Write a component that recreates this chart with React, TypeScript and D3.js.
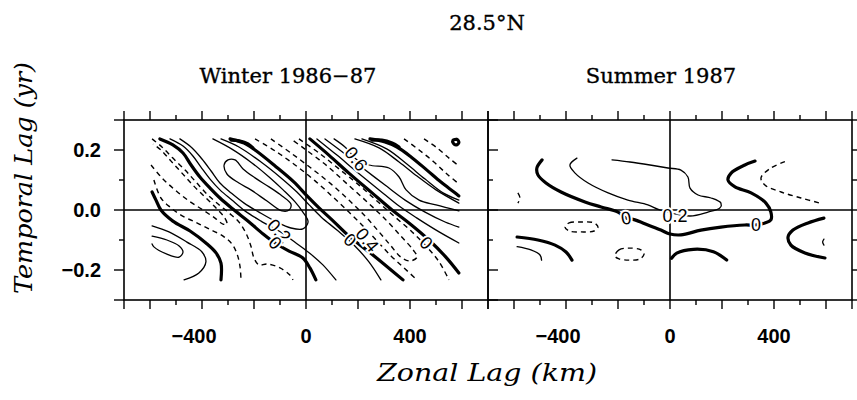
import { useEffect, useRef } from 'react';
import * as d3 from 'd3';

type Pt = [number, number];
type Kind = 'thin' | 'thick' | 'dash';

// axis values
const xTickValues = [-700, -600, -500, -400, -300, -200, -100, 0, 100, 200, 300, 400, 500, 600, 700];
const xTickLabels = [-400, 0, 400];
const yTickValues = [-0.3, -0.2, -0.1, 0, 0.1, 0.2, 0.3];
const yTickLabels = [0.2, 0, -0.2];

// ---- Winter 1986-87 contours, [zonal lag km, temporal lag yr] ----
const wZeroLowLeft: Pt[] = [[-592, 0.06], [-577, 0.033], [-558, 0], [-512, -0.037], [-446, -0.07], [-385, -0.11], [-346, -0.143], [-327, -0.177], [-327, -0.233]];
const wPosLowLeft: Pt[] = [[-592, -0.053], [-527, -0.073], [-458, -0.107], [-400, -0.14], [-385, -0.173], [-412, -0.21], [-469, -0.233]];
const wPosLowLeft2: Pt[] = [[-592, -0.087], [-535, -0.1], [-488, -0.12], [-473, -0.14], [-488, -0.157], [-535, -0.147], [-585, -0.123], [-592, -0.113]];
const wNegA1: Pt[] = [[-585, 0.1], [-558, 0.04], [-519, 0.007], [-481, -0.017], [-427, -0.04], [-373, -0.063], [-319, -0.087], [-285, -0.113], [-265, -0.147], [-254, -0.187], [-250, -0.233]];
const wNegA2: Pt[] = [[-592, 0.237], [-554, 0.21], [-512, 0.173], [-465, 0.133], [-423, 0.093], [-381, 0.053], [-338, 0.02], [-296, -0.01], [-258, -0.04], [-231, -0.077], [-212, -0.12], [-200, -0.16], [-181, -0.183], [-150, -0.18], [-100, -0.193], [-62, -0.217], [-50, -0.233]];
const wNegA3: Pt[] = [[-596, 0.15], [-554, 0.107], [-504, 0.067], [-450, 0.03], [-396, 0], [-350, -0.027], [-319, -0.047], [-304, -0.047], [-312, -0.027], [-342, 0.003], [-388, 0.043], [-435, 0.083], [-477, 0.123], [-519, 0.163], [-558, 0.2], [-588, 0.22]];
const wBandAL0: Pt[] = [[-562, 0.237], [-512, 0.217], [-473, 0.19], [-442, 0.15], [-408, 0.11], [-369, 0.073], [-331, 0.04], [-281, 0.003], [-219, -0.04], [-165, -0.08], [-119, -0.11], [-65, -0.137], [-12, -0.16], [15, -0.193], [38, -0.233]];
const wBandAL2: Pt[] = [[-523, 0.237], [-473, 0.213], [-435, 0.18], [-404, 0.143], [-369, 0.103], [-331, 0.067], [-285, 0.033], [-235, -0.003], [-173, -0.037], [-104, -0.07], [-54, -0.1], [-12, -0.127], [27, -0.153], [65, -0.183], [115, -0.233]];
const wBandA4: Pt[] = [[-485, 0.237], [-438, 0.207], [-400, 0.17], [-365, 0.13], [-331, 0.09], [-288, 0.057], [-238, 0.023], [-181, -0.007], [-119, -0.037], [-58, -0.06], [-12, -0.063], [8, -0.04], [-12, -0.007], [-42, 0.027], [-88, 0.067], [-142, 0.11], [-208, 0.157], [-285, 0.203], [-358, 0.237]];
const wBandA6: Pt[] = [[-315, 0.15], [-300, 0.167], [-273, 0.167], [-242, 0.137], [-196, 0.107], [-142, 0.077], [-92, 0.047], [-58, 0.02], [-65, 0], [-92, -0.003], [-150, 0.03], [-212, 0.067], [-258, 0.09], [-304, 0.12]];
const wBandAR2: Pt[] = [[-327, 0.237], [-258, 0.21], [-173, 0.16], [-96, 0.107], [-35, 0.06], [12, 0.017], [58, -0.023], [119, -0.067], [188, -0.12], [242, -0.173], [288, -0.233]];
const wBandAR0: Pt[] = [[-292, 0.237], [-238, 0.223], [-196, 0.2], [-119, 0.147], [-46, 0.093], [4, 0.047], [50, 0.007], [100, -0.033], [165, -0.087], [262, -0.153], [373, -0.233]];
const wBlobA: Pt[] = [[-288, 0.233], [-254, 0.23], [-223, 0.22], [-204, 0.207]];
const wNegB1: Pt[] = [[-196, 0.237], [-119, 0.197], [-42, 0.15], [35, 0.097], [104, 0.043], [165, -0.007], [219, -0.053], [273, -0.103], [327, -0.153], [377, -0.193], [427, -0.233]];
const wNegB2: Pt[] = [[-27, 0.237], [50, 0.19], [127, 0.137], [204, 0.083], [273, 0.03], [342, -0.023], [408, -0.073], [465, -0.123], [512, -0.173], [550, -0.233]];
const wNegB3: Pt[] = [[-135, 0.237], [-58, 0.19], [19, 0.14], [96, 0.087], [165, 0.033], [227, -0.02], [281, -0.073], [327, -0.12], [365, -0.157], [400, -0.17], [427, -0.157], [412, -0.133], [365, -0.087], [304, -0.03], [235, 0.027], [158, 0.087], [81, 0.147], [-4, 0.203], [-58, 0.237]];
const wBandBL0: Pt[] = [[15, 0.237], [88, 0.183], [165, 0.123], [254, 0.057], [331, 0], [396, -0.043], [473, -0.1], [538, -0.157], [588, -0.21]];
const wBandBL2: Pt[] = [[42, 0.237], [119, 0.183], [196, 0.127], [281, 0.067], [358, 0.013], [427, -0.027], [512, -0.073], [588, -0.11]];
const wBandBL4: Pt[] = [[73, 0.237], [150, 0.187], [223, 0.137], [304, 0.083], [381, 0.033], [458, -0.007], [535, -0.04], [588, -0.057]];
const wBandB6: Pt[] = [[108, 0.237], [154, 0.207], [192, 0.17], [242, 0.15], [319, 0.14], [358, 0.11], [385, 0.067], [435, 0.033], [500, 0.017], [588, -0.003]];
const wBandBR4: Pt[] = [[188, 0.237], [281, 0.207], [358, 0.16], [427, 0.113], [500, 0.067], [588, 0.023]];
const wBandBR2: Pt[] = [[215, 0.237], [312, 0.203], [388, 0.153], [458, 0.103], [527, 0.057], [588, 0.033]];
const wBandBR0: Pt[] = [[246, 0.237], [304, 0.227], [350, 0.21], [404, 0.177], [465, 0.133], [519, 0.093], [569, 0.06], [588, 0.047]];
const wBlobB: Pt[] = [[254, 0.233], [292, 0.233], [331, 0.223], [358, 0.21]];
const wNegC1: Pt[] = [[377, 0.237], [435, 0.2], [492, 0.16], [542, 0.12], [588, 0.087]];
const wNegC2: Pt[] = [[454, 0.237], [504, 0.207], [550, 0.173], [588, 0.147]];
const wBlobC: Pt[] = [[565, 0.232], [581, 0.235], [588, 0.225], [578, 0.217], [567, 0.222]];

// ---- Summer 1987 contours ----
const sZeroMain: Pt[] = [[-492, 0.167], [-512, 0.14], [-508, 0.117], [-477, 0.09], [-419, 0.06], [-327, 0.027], [-265, 0.01], [-200, -0.007], [-169, -0.027], [-135, -0.033], [-85, -0.05], [-35, -0.067], [0, -0.08], [42, -0.083], [119, -0.067], [196, -0.057], [288, -0.05], [327, -0.05], [365, -0.043], [388, -0.033], [388, -0.007], [369, 0.023], [312, 0.057], [250, 0.077], [223, 0.1], [235, 0.123], [288, 0.15], [327, 0.163]];
const sPosMain: Pt[] = [[-358, 0.173], [-385, 0.15], [-365, 0.123], [-315, 0.09], [-238, 0.057], [-162, 0.033], [-85, 0.017], [-38, 0], [77, -0.02], [146, -0.007], [192, 0.007], [196, 0.023], [158, 0.04], [108, 0.05], [77, 0.073], [69, 0.11], [42, 0.133], [-8, 0.14], [-77, 0.15], [-154, 0.16], [-223, 0.167]];
const sNegA: Pt[] = [[-404, -0.057], [-388, -0.043], [-342, -0.04], [-292, -0.043], [-277, -0.057], [-292, -0.07], [-342, -0.073], [-388, -0.07]];
const sNegB: Pt[] = [[-212, -0.153], [-196, -0.133], [-158, -0.127], [-112, -0.133], [-100, -0.147], [-115, -0.163], [-158, -0.167], [-196, -0.163]];
const sZeroLowLeft: Pt[] = [[-588, -0.09], [-508, -0.1], [-442, -0.117], [-400, -0.14], [-377, -0.167]];
const sPosLowLeft: Pt[] = [[-588, -0.122], [-535, -0.133], [-500, -0.15], [-494, -0.167]];
const sZeroLowMid: Pt[] = [[6, -0.161], [26, -0.144], [90, -0.131], [167, -0.139], [218, -0.167]];
const sZeroRight: Pt[] = [[592, -0.027], [531, -0.043], [473, -0.067], [454, -0.09], [465, -0.117], [519, -0.143], [596, -0.16]];
const sPosRight: Pt[] = [[592, -0.097], [587, -0.107], [592, -0.117]];
const sNegUpRight: Pt[] = [[442, 0.161], [388, 0.14], [350, 0.107], [365, 0.083], [427, 0.06], [504, 0.04], [577, 0.023]];
const sNegLeft: Pt[] = [[-585, 0.057], [-577, 0.04], [-585, 0.023]];

interface Contour { pts: Pt[]; kind: Kind; closed?: boolean }
interface Label { km: number; yr: number; text: string; rot: number }

const winterContours: Contour[] = [
  { pts: wZeroLowLeft, kind: 'thick' },
  { pts: wPosLowLeft, kind: 'thin' },
  { pts: wPosLowLeft2, kind: 'thin' },
  { pts: wNegA1, kind: 'dash' },
  { pts: wNegA2, kind: 'dash' },
  { pts: wNegA3, kind: 'dash' },
  { pts: wBandAL0, kind: 'thick' },
  { pts: wBandAL2, kind: 'thin' },
  { pts: wBandA4, kind: 'thin' },
  { pts: wBandA6, kind: 'thin', closed: true },
  { pts: wBandAR2, kind: 'thin' },
  { pts: wBandAR0, kind: 'thick' },
  { pts: wBlobA, kind: 'thick' },
  { pts: wNegB1, kind: 'dash' },
  { pts: wNegB2, kind: 'dash' },
  { pts: wNegB3, kind: 'dash' },
  { pts: wBandBL0, kind: 'thick' },
  { pts: wBandBL2, kind: 'thin' },
  { pts: wBandBL4, kind: 'thin' },
  { pts: wBandB6, kind: 'thin' },
  { pts: wBandBR4, kind: 'thin' },
  { pts: wBandBR2, kind: 'thin' },
  { pts: wBandBR0, kind: 'thick' },
  { pts: wBlobB, kind: 'thick' },
  { pts: wNegC1, kind: 'dash' },
  { pts: wNegC2, kind: 'dash' },
  { pts: wBlobC, kind: 'thick', closed: true },
];

const summerContours: Contour[] = [
  { pts: sZeroMain, kind: 'thick' },
  { pts: sPosMain, kind: 'thin' },
  { pts: sNegA, kind: 'dash', closed: true },
  { pts: sNegB, kind: 'dash', closed: true },
  { pts: sZeroLowLeft, kind: 'thick' },
  { pts: sPosLowLeft, kind: 'thin' },
  { pts: sZeroLowMid, kind: 'thick' },
  { pts: sZeroRight, kind: 'thick' },
  { pts: sPosRight, kind: 'thin' },
  { pts: sNegUpRight, kind: 'dash' },
  { pts: sNegLeft, kind: 'dash' },
];

const winterLabels: Label[] = [
  { km: 192, yr: 0.17, text: '0.6', rot: 52 },
  { km: -104, yr: -0.07, text: '0.2', rot: 47 },
  { km: -119, yr: -0.11, text: '0', rot: 45 },
  { km: 169, yr: -0.1, text: '0', rot: 40 },
  { km: 235, yr: -0.1, text: '0.4', rot: 50 },
  { km: 462, yr: -0.11, text: '0', rot: 45 },
];

const summerLabels: Label[] = [
  { km: -169, yr: -0.027, text: '0', rot: -10 },
  { km: 19, yr: -0.02, text: '0.2', rot: 0 },
  { km: 331, yr: -0.05, text: '0', rot: 0 },
];

const panels = [
  { title: 'Winter 1986\u221287', titleX: 288, range: [124, 488], contours: winterContours, labels: winterLabels },
  { title: 'Summer 1987', titleX: 661, range: [488, 852], contours: summerContours, labels: summerLabels },
];

const fmtTick = (v: number) => (v < 0 ? '\u2212' : '') + Math.abs(v).toString();

const App = () => {
  const svgRef = useRef<SVGSVGElement>(null);

  useEffect(() => {
    const svg = d3.select(svgRef.current)
      .attr('width', 857)
      .attr('height', 400);
    svg.selectAll('*').remove();

    const y = d3.scaleLinear().domain([-0.3, 0.3]).range([300, 120]);
    const yTop = y(0.3);
    const yBot = y(-0.3);
    const serif = "'DejaVu Serif', serif";
    const sans = "'Liberation Sans', Arial, sans-serif";

    svg.append('text')
      .attr('x', 487).attr('y', 30)
      .attr('text-anchor', 'middle')
      .attr('stroke', '#000').attr('stroke-width', 0.35)
      .style('font', `21px ${serif}`)
      .text('28.5\u00b0N');

    // horizontal zero line across both panels
    svg.append('line')
      .attr('x1', 124).attr('x2', 852)
      .attr('y1', y(0)).attr('y2', y(0))
      .attr('stroke', '#000').attr('stroke-width', 1.6);

    panels.forEach((p, pi) => {
      const x = d3.scaleLinear().domain([-700, 700]).range(p.range);
      const g = svg.append('g');

      g.append('text')
        .attr('x', p.titleX).attr('y', 83)
        .attr('text-anchor', 'middle')
        .attr('stroke', '#000').attr('stroke-width', 0.35)
        .style('font', `21px ${serif}`)
        .text(p.title);

      // frame
      g.append('rect')
        .attr('x', x(-700)).attr('y', yTop)
        .attr('width', x(700) - x(-700)).attr('height', yBot - yTop)
        .attr('fill', 'none').attr('stroke', '#000').attr('stroke-width', 1.6);

      // vertical zero line
      g.append('line')
        .attr('x1', x(0)).attr('x2', x(0))
        .attr('y1', yTop).attr('y2', yBot)
        .attr('stroke', '#000').attr('stroke-width', 1.6);

      // x ticks top and bottom
      xTickValues.forEach(v => {
        const len = (v % 200 === 0 || Math.abs(v) === 700) ? 9 : 5;
        g.append('line').attr('x1', x(v)).attr('x2', x(v)).attr('y1', yTop).attr('y2', yTop - len)
          .attr('stroke', '#000').attr('stroke-width', 1.4);
        g.append('line').attr('x1', x(v)).attr('x2', x(v)).attr('y1', yBot).attr('y2', yBot + len)
          .attr('stroke', '#000').attr('stroke-width', 1.4);
      });
      xTickLabels.forEach(v => {
        const t = g.append('text')
          .attr('x', x(v)).attr('y', 343)
          .attr('text-anchor', 'middle')
          .style('font', `bold 20px ${sans}`)
          .text(fmtTick(v));
        if (v < 0) t.attr('dx', -8);
      });

      // y ticks: outward on the far left, inward-right on the divider and right edge
      yTickValues.forEach(v => {
        const len = Math.abs(Math.round(v * 10)) % 2 === 0 || Math.abs(v) > 0.25 ? 10 : 5;
        if (pi === 0) {
          g.append('line').attr('x1', x(-700)).attr('x2', x(-700) - len).attr('y1', y(v)).attr('y2', y(v))
            .attr('stroke', '#000').attr('stroke-width', 1.4);
        }
        g.append('line').attr('x1', x(700)).attr('x2', x(700) + len).attr('y1', y(v)).attr('y2', y(v))
          .attr('stroke', '#000').attr('stroke-width', 1.4);
      });
      if (pi === 0) {
        yTickLabels.forEach(v => {
          g.append('text')
            .attr('x', 101).attr('y', y(v))
            .attr('text-anchor', 'end')
            .attr('dominant-baseline', 'central')
            .style('font', `bold 20px ${sans}`)
            .text(v === 0 ? '0.0' : fmtTick(v));
        });
      }

      // contours
      const open = d3.line<Pt>().x(d => x(d[0])).y(d => y(d[1])).curve(d3.curveCatmullRom.alpha(0.5));
      const closed = d3.line<Pt>().x(d => x(d[0])).y(d => y(d[1])).curve(d3.curveCatmullRomClosed.alpha(0.5));
      p.contours.forEach(c => {
        g.append('path')
          .attr('d', (c.closed ? closed : open)(c.pts))
          .attr('fill', 'none')
          .attr('stroke', '#000')
          .attr('stroke-width', c.kind === 'thick' ? 3.2 : c.kind === 'dash' ? 1.4 : 1.3)
          .attr('stroke-dasharray', c.kind === 'dash' ? '5,4' : null)
          .attr('stroke-linecap', c.kind === 'dash' ? 'butt' : 'round')
          .attr('stroke-linejoin', 'round');
      });

      // contour labels
      p.labels.forEach(l => {
        g.append('text')
          .attr('transform', `translate(${x(l.km)},${y(l.yr)}) rotate(${l.rot})`)
          .attr('text-anchor', 'middle')
          .attr('dominant-baseline', 'central')
          .attr('stroke', '#fff').attr('stroke-width', 4)
          .attr('paint-order', 'stroke')
          .style('font', `18px ${sans}`)
          .text(l.text);
      });
    });

    svg.append('text')
      .attr('transform', 'translate(32,178) rotate(-90)')
      .attr('text-anchor', 'middle')
      .attr('textLength', 232)
      .attr('lengthAdjust', 'spacingAndGlyphs')
      .style('font', `italic 24px ${serif}`)
      .text('Temporal Lag (yr)');

    svg.append('text')
      .attr('x', 487).attr('y', 381)
      .attr('text-anchor', 'middle')
      .attr('textLength', 220)
      .attr('lengthAdjust', 'spacingAndGlyphs')
      .style('font', `italic 25px ${serif}`)
      .text('Zonal Lag (km)');
  }, []);

  return (
    <div>
      <svg ref={svgRef} style={{ position: 'absolute', left: 0, top: 0, background: '#fff' }}></svg>
    </div>
  );
};

export default App;
